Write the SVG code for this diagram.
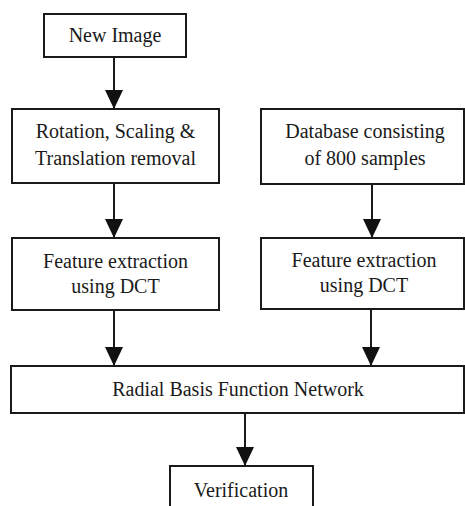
<svg xmlns="http://www.w3.org/2000/svg" width="465" height="506" viewBox="0 0 465 506">
<style>
.box{fill:#fff;stroke:#1a1a1a;stroke-width:2}
.t{font-family:'Times New Roman',Times,'Liberation Serif',serif;font-size:20px;fill:#1a1a1a;text-anchor:middle}
.c{stroke:#1a1a1a;stroke-width:2;fill:none}
</style>
<defs>
<marker id="ah" markerWidth="19" markerHeight="18" refX="19" refY="9" orient="auto" markerUnits="userSpaceOnUse">
<path d="M0,0 L19,9 L0,18 Z" fill="#111"/>
</marker>
</defs>
<rect width="465" height="506" fill="#fff"/>
<g id="connectors">
<line class="c" x1="114" y1="57" x2="114" y2="109" marker-end="url(#ah)"/>
<line class="c" x1="114" y1="183" x2="114" y2="238" marker-end="url(#ah)"/>
<line class="c" x1="372" y1="184" x2="372" y2="238" marker-end="url(#ah)"/>
<line class="c" x1="114" y1="310" x2="114" y2="366" marker-end="url(#ah)"/>
<line class="c" x1="371" y1="309" x2="371" y2="366" marker-end="url(#ah)"/>
<line class="c" x1="245" y1="413" x2="245" y2="466" marker-end="url(#ah)"/>
</g>
<g id="new-image">
<rect class="box" x="44" y="14" width="142" height="43"/>
<text class="t" x="115" y="42">New Image</text>
</g>
<g id="rotation">
<rect class="box" x="12" y="109" width="207" height="74"/>
<text class="t" x="115.5" y="138">Rotation, Scaling &amp;</text>
<text class="t" x="115.5" y="165">Translation removal</text>
</g>
<g id="database">
<rect class="box" x="261" y="109" width="203" height="75"/>
<text class="t" x="365" y="138">Database consisting</text>
<text class="t" x="365" y="165">of 800 samples</text>
</g>
<g id="feature-left">
<rect class="box" x="12" y="238" width="207" height="72"/>
<text class="t" x="115.5" y="268">Feature extraction</text>
<text class="t" x="115.5" y="293">using DCT</text>
</g>
<g id="feature-right">
<rect class="box" x="261" y="238" width="203" height="71"/>
<text class="t" x="364" y="267">Feature extraction</text>
<text class="t" x="364" y="292">using DCT</text>
</g>
<g id="rbfn">
<rect class="box" x="11" y="366" width="453" height="47"/>
<text class="t" x="238" y="396">Radial Basis Function Network</text>
</g>
<g id="verification">
<rect class="box" x="170" y="466" width="143" height="50"/>
<text class="t" x="241" y="497">Verification</text>
</g>
</svg>
